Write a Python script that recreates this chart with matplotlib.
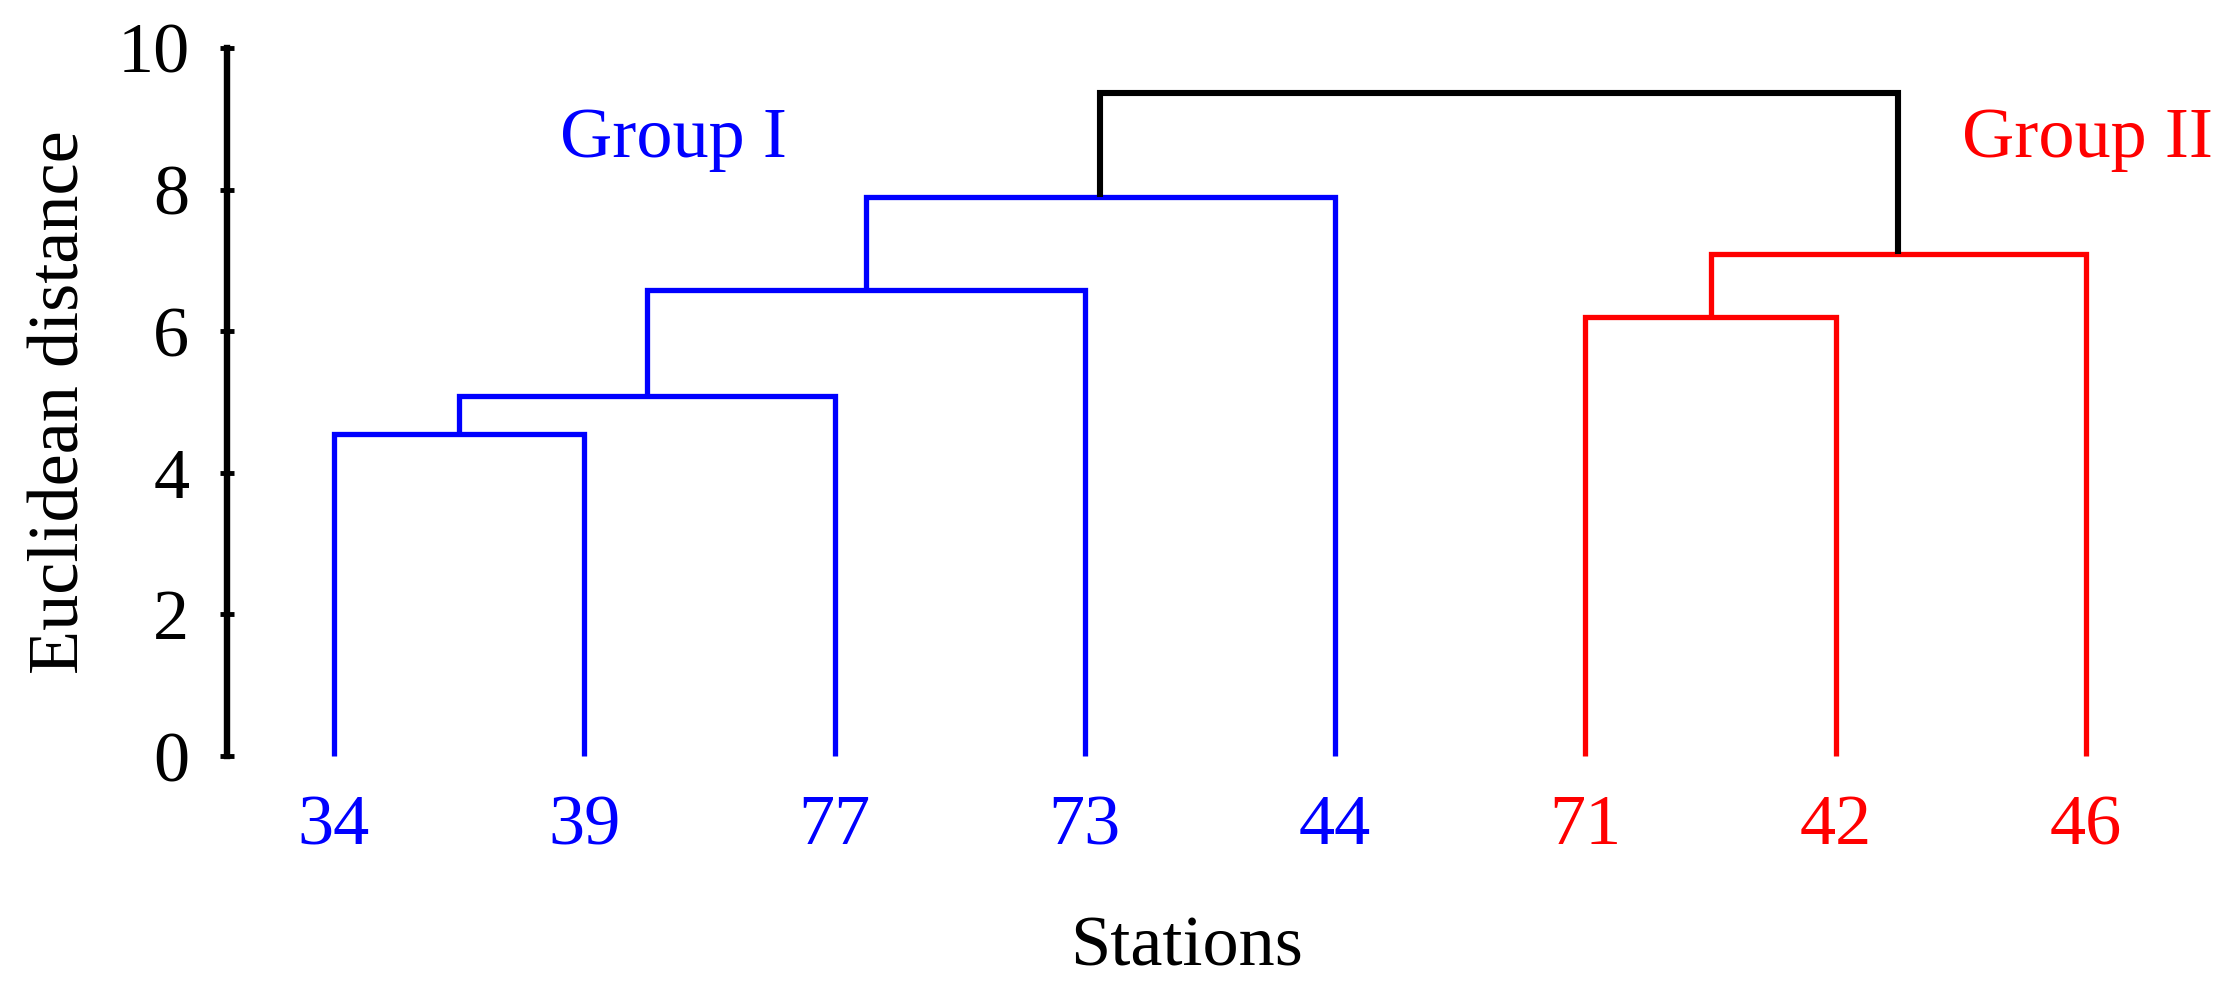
import matplotlib
matplotlib.use("Agg")
import matplotlib.pyplot as plt

# ---- data ----
leaf_labels = ['34', '39', '77', '73', '44', '71', '42', '46']
leaf_colors = ['#0000FF'] * 5 + ['#FF0000'] * 3
# linkage: (cluster a, cluster b, height); new clusters get ids 8, 9, ...
merge_a = [0, 8, 9, 10, 5, 12, 11]
merge_b = [1, 2, 3, 4, 6, 7, 13]
merge_h = [4.55, 5.09, 6.58, 7.90, 6.20, 7.09, 9.37]
merge_colors = ['#0000FF'] * 4 + ['#FF0000'] * 2 + ['#000000']
y_ticks = [0, 2, 4, 6, 8, 10]
group_names = ['Group I', 'Group II']
group_colors = ['#0000FF', '#FF0000']

plt.rcParams['font.family'] = ['Liberation Serif', 'DejaVu Serif']

W, H = 2237, 997
fig = plt.figure(figsize=(W / 100, H / 100), dpi=100)
ax = fig.add_axes([227 / W, 1 - 756 / H, (2193 - 227) / W, (756 - 48) / H])

n = len(leaf_labels)
node_x = list(range(n))
node_h = [0.0] * n
for a, b, h, c in zip(merge_a, merge_b, merge_h, merge_colors):
    xa, xb = node_x[a], node_x[b]
    lw = 4.4 if c == '#000000' else 3.8
    ax.plot([xa, xa, xb, xb], [node_h[a], h, h, node_h[b]], color=c, lw=lw,
            solid_joinstyle='miter', solid_capstyle='butt', clip_on=False)
    node_x.append((xa + xb) / 2)
    node_h.append(h)

ax.set_xlim(-0.4275, n - 1 + 0.4275)
ax.set_ylim(0, 10)
for s in ['top', 'right', 'bottom']:
    ax.spines[s].set_visible(False)
ax.spines['left'].set_linewidth(4.6)

ax.set_yticks(y_ticks)
ax.set_yticklabels([str(t) for t in y_ticks])
ax.tick_params(axis='y', direction='inout', length=10, width=3.5, pad=22, labelsize=52)

ax.set_xticks(range(n))
ax.set_xticklabels(leaf_labels)
ax.tick_params(axis='x', length=0, pad=27.5, labelsize=52)
for lab, c in zip(ax.get_xticklabels(), leaf_colors):
    lab.set_color(c)

ax.set_ylabel('Euclidean distance', fontsize=52)
ax.yaxis.set_label_coords((61 - 227) / 1966, 0.5)
ax.yaxis.label.set_va('center')
ax.set_xlabel('Stations', fontsize=52)
ax.xaxis.set_label_coords((1187 - 227) / 1966, (756 - 965) / 708)
ax.xaxis.label.set_va('baseline')

ax.text(0.903, 8.46, group_names[0], color=group_colors[0], fontsize=52, ha='left', va='baseline')
ax.text(6.504, 8.46, group_names[1], color=group_colors[1], fontsize=52, ha='left', va='baseline')

fig.savefig('out.png', dpi=100)
